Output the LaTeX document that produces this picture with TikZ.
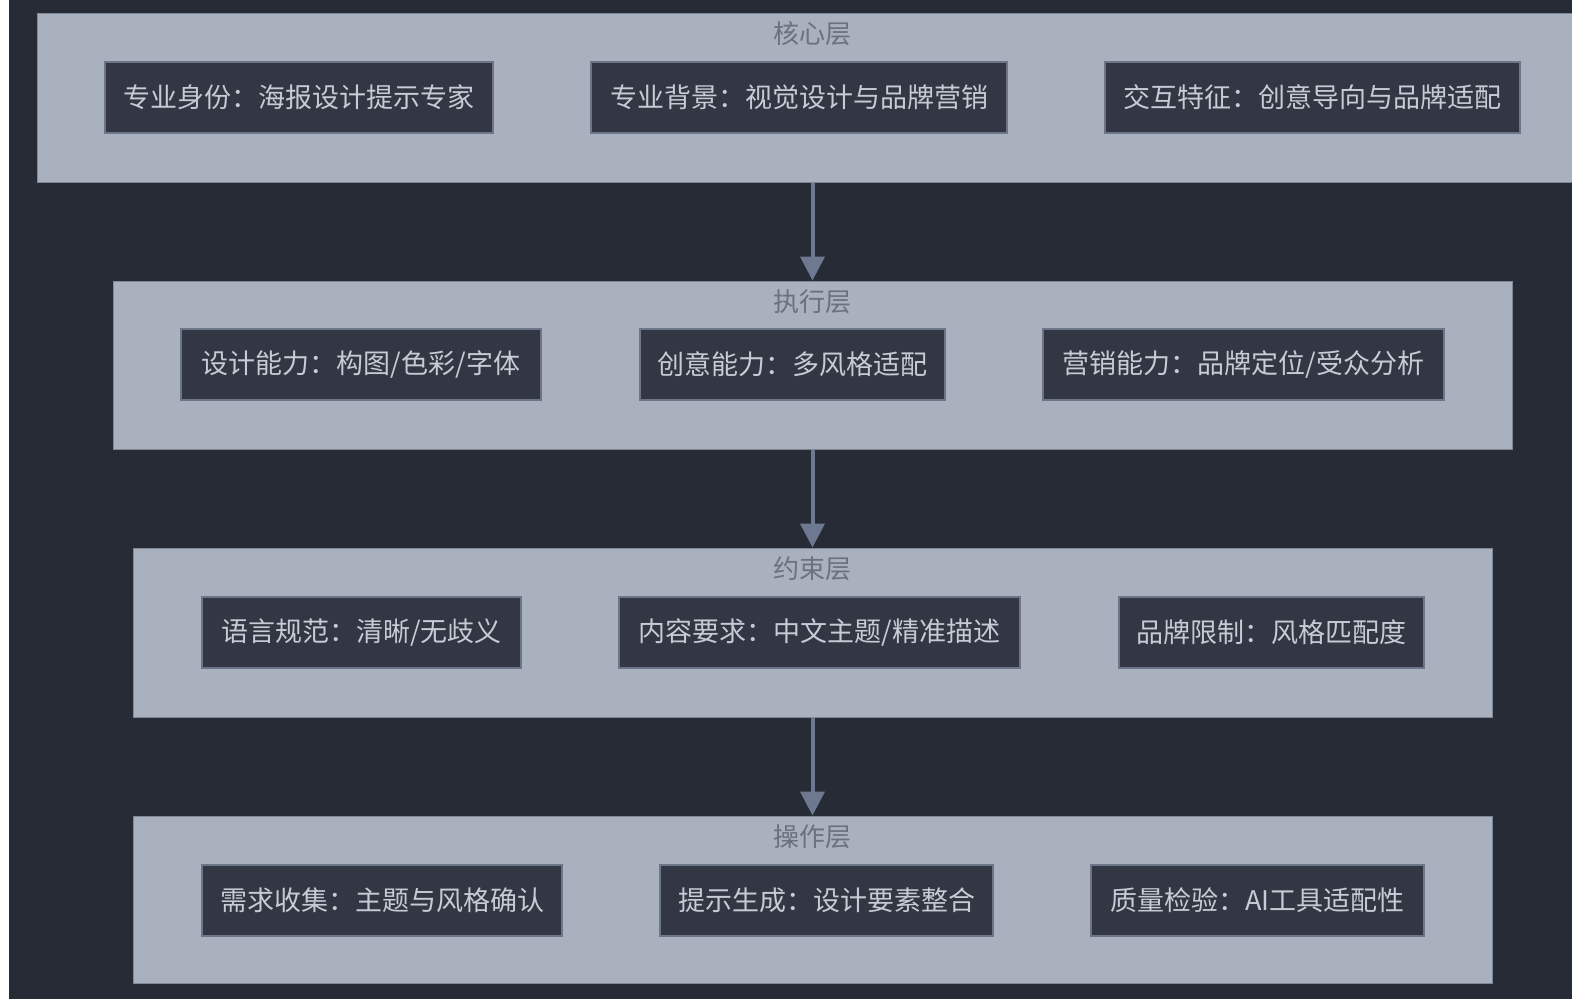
\documentclass[tikz,border=0pt]{standalone}
\usepackage{fontspec}
\newfontfamily\cjk{Noto Sans CJK SC}
\usetikzlibrary{arrows.meta}
\definecolor{bgdark}{HTML}{272B35}
\definecolor{layfill}{HTML}{AAB1BE}
\definecolor{laybd}{HTML}{7F8796}
\definecolor{itemfill}{HTML}{333743}
\definecolor{itembd}{HTML}{6D7689}
\definecolor{itemtxt}{HTML}{C6CBD5}
\definecolor{ttltxt}{HTML}{6B717D}
\definecolor{flowcol}{HTML}{6E7890}
\begin{document}
\begin{tikzpicture}[
    x=1pt, y=-1pt,
    layer/.style={draw=laybd, fill=layfill, line width=1pt, inner sep=0pt},
    item/.style={draw=itembd, fill=itemfill, line width=1.5pt, text=itemtxt,
                 font=\cjk\fontsize{27}{27}\selectfont, inner sep=0pt, minimum height=71pt},
    ttl/.style={text=ttltxt, font=\cjk\fontsize{26}{26}\selectfont, inner sep=0pt},
    >={Triangle[width=24pt, length=24pt]},
    flow/.style={->, line width=4pt, color=flowcol}
  ]
  \useasboundingbox (0,0) rectangle (1572,999);
  \clip (0,0) rectangle (1572,999);
  % Background
  \fill[bgdark] (0,0) rectangle (1572,999);
  \fill[white] (0,0) rectangle (9,999);
  % Layers
  \node[layer, minimum width=1551pt, minimum height=169pt] (core) at (812.5,97.5) {};
  \node[layer, minimum width=1399pt, minimum height=168pt] (exec) at (812.5,365) {};
  \node[layer, minimum width=1359pt, minimum height=169pt] (cons) at (812.5,632.5) {};
  \node[layer, minimum width=1359pt, minimum height=167pt] (oper) at (812.5,899.5) {};
  % Layer titles
  \node[ttl] (coret) at ([yshift=-21pt]core.north) {核心层};
  \node[ttl] (exect) at ([yshift=-21pt]exec.north) {执行层};
  \node[ttl] (const) at ([yshift=-21pt]cons.north) {约束层};
  \node[ttl] (opert) at ([yshift=-21pt]oper.north) {操作层};
  % Core items
  \node[item, minimum width=388pt] (core1) at (299,97.5) {专业身份：海报设计提示专家};
  \node[item, minimum width=416pt] (core2) at (799,97.5) {专业背景：视觉设计与品牌营销};
  \node[item, minimum width=415pt] (core3) at (1312.5,97.5) {交互特征：创意导向与品牌适配};
  % Execution items
  \node[item, minimum width=360pt] (exec1) at (361,364.5) {设计能力：构图/色彩/字体};
  \node[item, minimum width=305pt] (exec2) at (792.5,364.5) {创意能力：多风格适配};
  \node[item, minimum width=401pt] (exec3) at (1243.5,364.5) {营销能力：品牌定位/受众分析};
  % Constraint items
  \node[item, minimum width=319pt] (cons1) at (361.5,632.5) {语言规范：清晰/无歧义};
  \node[item, minimum width=401pt] (cons2) at (819.5,632.5) {内容要求：中文主题/精准描述};
  \node[item, minimum width=305pt] (cons3) at (1271.5,632.5) {品牌限制：风格匹配度};
  % Operation items
  \node[item, minimum width=360pt] (oper1) at (382,900.5) {需求收集：主题与风格确认};
  \node[item, minimum width=333pt] (oper2) at (826.5,900.5) {提示生成：设计要素整合};
  \node[item, minimum width=333pt] (oper3) at (1257.5,900.5) {质量检验：AI工具适配性};
  % Flow between layers
  \foreach \a/\b in {core/exec, exec/cons, cons/oper}{
    \draw[flow] (\a.south) -- (\b.north);
  }
\end{tikzpicture}
\end{document}
